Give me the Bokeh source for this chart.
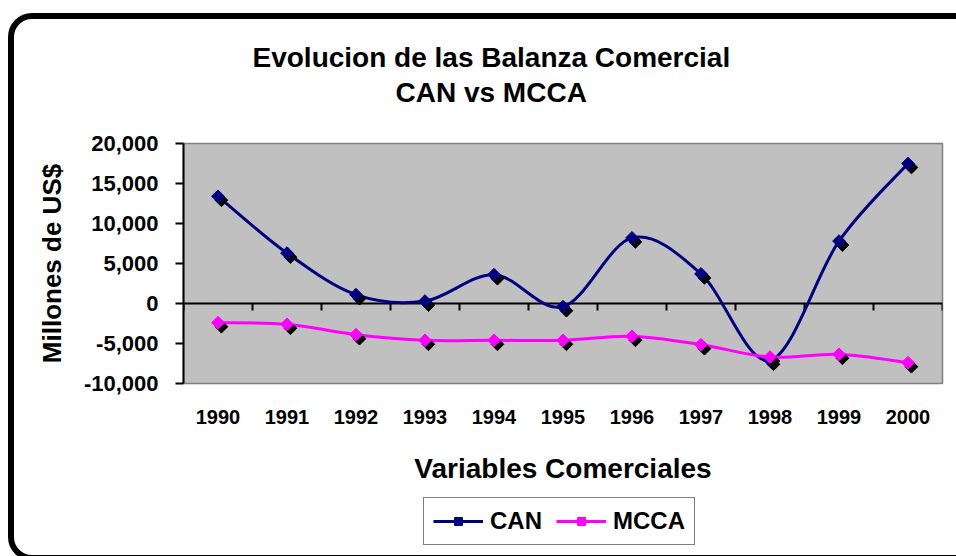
import numpy as np
from bokeh.plotting import figure
from bokeh.layouts import column
from bokeh.models import (Range1d, FixedTicker, NumeralTickFormatter, Title, Span,
                          Legend, LegendItem, ColumnDataSource)
from bokeh.transform import dodge
from bokeh.embed import file_html
from bokeh.resources import INLINE

# ---------------- data ----------------
years = ["1990", "1991", "1992", "1993", "1994", "1995", "1996", "1997", "1998", "1999", "2000"]
can = [13400, 6300, 1100, 300, 3600, -400, 8200, 3700, -7100, 7800, 17500]
mcca = [-2400, -2600, -3900, -4600, -4600, -4600, -4100, -5150, -6700, -6350, -7400]
series_names = ["CAN", "MCCA"]
y_ticks = [-10000, -5000, 0, 5000, 10000, 15000, 20000]
title_lines = ["Evolucion de las Balanza Comercial", "CAN vs MCCA"]
y_label = "Millones de US$"
x_label = "Variables Comerciales"

FONT = "Liberation Sans"
NAVY = "#000080"
PINK = "#FF00FF"
COLORS = [NAVY, PINK]

xs = list(range(len(years)))
x_rng = (-0.5, len(years) - 0.5)
y_rng = (y_ticks[0], y_ticks[-1])


def bezier_source(x, y):
    n = len(x)
    d = dict(x0=[], y0=[], x1=[], y1=[], cx0=[], cy0=[], cx1=[], cy1=[])
    for i in range(n - 1):
        im = max(i - 1, 0)
        ip = min(i + 2, n - 1)
        d["x0"].append(x[i]); d["y0"].append(y[i])
        d["x1"].append(x[i + 1]); d["y1"].append(y[i + 1])
        d["cx0"].append(x[i] + (x[i + 1] - x[im]) / 6.0)
        d["cy0"].append(y[i] + (y[i + 1] - y[im]) / 6.0)
        d["cx1"].append(x[i + 1] - (x[ip] - x[i]) / 6.0)
        d["cy1"].append(y[i + 1] - (y[ip] - y[i]) / 6.0)
    return ColumnDataSource(d)


# ================= main chart =================
p = figure(width=956, height=494, output_backend="svg", toolbar_location=None, title=None,
           x_range=Range1d(*x_rng), y_range=Range1d(*y_rng),
           min_border_left=183, min_border_right=14, min_border_top=143, min_border_bottom=111)
p.xgrid.visible = False
p.ygrid.visible = False
p.background_fill_color = "#C0C0C0"
p.border_fill_color = "white"
p.outline_line_color = "#808080"
p.outline_line_width = 1.5

# zero line with tick marks at the category boundaries (under the series)
p.add_layout(Span(location=0, dimension="width", line_color="black", line_width=2,
                  level="underlay"))
bounds = [i - 0.5 for i in range(len(years) + 1)]
p.ray(x=bounds, y=[0] * len(bounds), length=7, length_units="screen", angle=-np.pi / 2,
      line_color="black", line_width=2, level="underlay")

for vals, col in zip([can, mcca], COLORS):
    p.bezier(x0="x0", y0="y0", x1="x1", y1="y1", cx0="cx0", cy0="cy0", cx1="cx1", cy1="cy1",
             source=bezier_source(xs, vals), line_color=col, line_width=3, line_cap="round")
    src = ColumnDataSource(dict(x=xs, y=vals))
    p.scatter(x=dodge("x", 0.05), y=dodge("y", -500), source=src, marker="square",
              angle=np.pi / 4, size=9, fill_color="black", line_color="black")
    p.scatter(x="x", y="y", source=src, marker="square", angle=np.pi / 4, size=9,
              fill_color=col, line_color=col)

# y axis
ya = p.yaxis[0]
ya.ticker = FixedTicker(ticks=y_ticks)
ya.formatter = NumeralTickFormatter(format="0,0")
ya.major_label_text_font = FONT
ya.major_label_text_font_style = "bold"
ya.major_label_text_font_size = "22px"
ya.major_label_text_color = "black"
ya.axis_line_width = 2
ya.axis_line_color = "black"
ya.major_tick_out = 8
ya.major_tick_in = 0
ya.major_tick_line_width = 2
ya.minor_tick_line_color = None
ya.major_label_standoff = 17
ya.axis_label = y_label
ya.axis_label_text_font = FONT
ya.axis_label_text_font_style = "bold"
ya.axis_label_text_font_size = "26px"
ya.axis_label_text_color = "black"
ya.axis_label_standoff = 14

# x axis (labels only)
xa = p.xaxis[0]
xa.ticker = FixedTicker(ticks=xs)
xa.major_label_overrides = {i: y for i, y in zip(xs, years)}
xa.axis_line_color = None
xa.major_tick_line_color = None
xa.minor_tick_line_color = None
xa.major_label_text_font = FONT
xa.major_label_text_font_style = "bold"
xa.major_label_text_font_size = "20px"
xa.major_label_text_color = "black"
xa.major_label_standoff = 20
xa.axis_label = x_label
xa.axis_label_text_font = FONT
xa.axis_label_text_font_style = "bold"
xa.axis_label_text_font_size = "28px"
xa.axis_label_text_color = "black"
xa.axis_label_standoff = 26

# titles (spacer nearest the frame, then second line, then first line)
p.add_layout(Title(text=" ", text_font_size="28px", standoff=2), "above")
p.add_layout(Title(text=title_lines[1], align="left", offset=212, standoff=2,
                   text_font=FONT, text_font_style="bold", text_font_size="28px",
                   text_color="black"), "above")
p.add_layout(Title(text=title_lines[0], align="left", offset=69, standoff=2,
                   text_font=FONT, text_font_style="bold", text_font_size="28px",
                   text_color="black"), "above")

# ================= legend strip =================
lg = figure(width=956, height=62, output_backend="svg", toolbar_location=None, title=None,
            x_range=Range1d(*x_rng), y_range=Range1d(*y_rng),
            x_axis_type=None, y_axis_type=None,
            min_border_left=0, min_border_right=0, min_border_top=0, min_border_bottom=0)
lg.outline_line_color = None
lg.background_fill_color = "white"
lg.border_fill_color = "white"

items = []
for name, vals, col in zip(series_names, [can, mcca], COLORS):
    c = lg.bezier(x0="x0", y0="y0", x1="x1", y1="y1", cx0="cx0", cy0="cy0", cx1="cx1",
                  cy1="cy1", source=bezier_source(xs, vals), line_color=col, line_width=3,
                  visible=False)
    m = lg.scatter(x=xs, y=vals, marker="square", angle=np.pi / 4, size=9,
                   fill_color=col, line_color=col, visible=False)
    items.append(LegendItem(label=name, renderers=[c, m]))

legend = Legend(items=items, orientation="horizontal", location=(240, 11),
                label_text_font=FONT, label_text_font_style="bold", label_text_font_size="24px",
                label_text_color="black", glyph_width=50, glyph_height=20, label_standoff=7,
                spacing=14, padding=9, margin=0, border_line_color="black",
                border_line_width=1.5, background_fill_color="white", background_fill_alpha=1)
lg.add_layout(legend, "center")

layout = column(p, lg, spacing=0)

border_css = """<style>
html, body { overflow: hidden; }
body::after {
  content: ""; position: fixed; left: 8px; top: 13px;
  width: 975px; height: 548px; box-sizing: border-box;
  border: 6px solid black; border-radius: 24px;
  pointer-events: none; z-index: 1000;
}
</style></head>"""

html = file_html(layout, INLINE)
html = html.replace("</head>", border_css, 1)
open("out.html", "w").write(html)
